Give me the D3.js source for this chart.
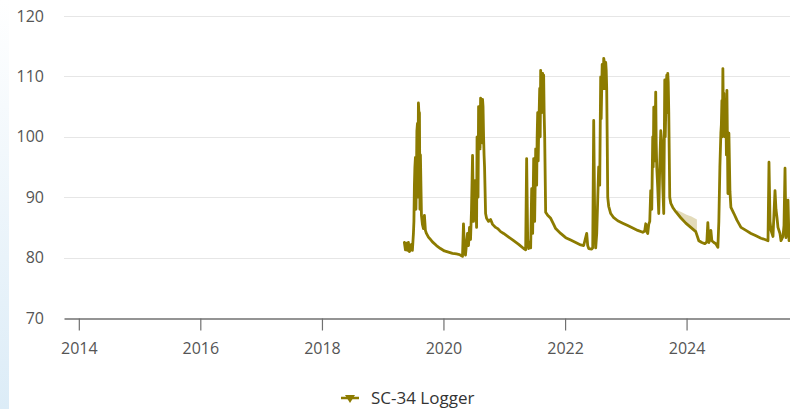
<!DOCTYPE html>
<html>
<head>
<meta charset="utf-8">
<script src="https://cdn.jsdelivr.net/npm/d3@7"></script>
<style>
  html, body { margin: 0; padding: 0; background: #fff; }
  svg { display: block; font-family: "Open Sans", "Noto Sans", sans-serif; }
</style>
</head>
<body>
<div id="chart"></div>
<script>
// Water level logger readings (decimal year, level)
const years = [
  2019.357, 2019.374, 2019.390, 2019.407, 2019.423, 2019.440, 2019.456, 2019.473, 2019.489, 2019.506,
  2019.522, 2019.539, 2019.555, 2019.572, 2019.588, 2019.605, 2019.621, 2019.638, 2019.654, 2019.671,
  2019.687, 2019.703, 2019.720, 2019.753, 2019.786, 2019.819, 2019.885, 2019.951, 2020.016, 2020.082,
  2020.148, 2020.214, 2020.264, 2020.297, 2020.313, 2020.329, 2020.346, 2020.362, 2020.379, 2020.395,
  2020.412, 2020.428, 2020.445, 2020.461, 2020.478, 2020.494, 2020.511, 2020.527, 2020.544, 2020.560,
  2020.577, 2020.593, 2020.610, 2020.626, 2020.642, 2020.659, 2020.675, 2020.692, 2020.708, 2020.741,
  2020.774, 2020.807, 2020.857, 2020.890, 2020.939, 2020.988, 2021.071, 2021.153, 2021.236, 2021.318,
  2021.351, 2021.367, 2021.384, 2021.400, 2021.417, 2021.433, 2021.450, 2021.466, 2021.483, 2021.499,
  2021.516, 2021.532, 2021.549, 2021.565, 2021.582, 2021.598, 2021.614, 2021.631, 2021.647, 2021.664,
  2021.680, 2021.713, 2021.763, 2021.812, 2021.845, 2021.927, 2022.010, 2022.092, 2022.175, 2022.257,
  2022.306, 2022.356, 2022.372, 2022.389, 2022.438, 2022.455, 2022.471, 2022.488, 2022.504, 2022.521,
  2022.537, 2022.553, 2022.570, 2022.586, 2022.603, 2022.619, 2022.636, 2022.652, 2022.669, 2022.685,
  2022.702, 2022.718, 2022.751, 2022.801, 2022.867, 2022.949, 2023.031, 2023.114, 2023.196, 2023.278,
  2023.311, 2023.328, 2023.344, 2023.361, 2023.377, 2023.394, 2023.410, 2023.427, 2023.443, 2023.460,
  2023.476, 2023.492, 2023.509, 2023.525, 2023.542, 2023.558, 2023.575, 2023.591, 2023.608, 2023.624,
  2023.641, 2023.657, 2023.674, 2023.690, 2023.707, 2023.723, 2023.740, 2023.773, 2023.822, 2023.904,
  2023.987, 2024.069, 2024.151, 2024.201, 2024.250, 2024.300, 2024.333, 2024.349, 2024.366, 2024.382,
  2024.399, 2024.415, 2024.448, 2024.481, 2024.514, 2024.530, 2024.547, 2024.563, 2024.580, 2024.596,
  2024.613, 2024.629, 2024.646, 2024.662, 2024.679, 2024.695, 2024.712, 2024.728, 2024.777, 2024.827,
  2024.893, 2024.975, 2025.058, 2025.140, 2025.222, 2025.288, 2025.338, 2025.354, 2025.371, 2025.387,
  2025.420, 2025.453, 2025.469, 2025.486, 2025.502, 2025.535, 2025.552, 2025.585, 2025.601, 2025.618,
  2025.634, 2025.651, 2025.667, 2025.684, 2025.700
];
const levels = [
  82.5, 81.3, 82.4, 81.2, 82.5, 81.0, 81.3, 82.2, 81.2, 84.0,
  92.0, 96.6, 93.0, 102.2, 105.6, 104.0, 97.0, 87.0, 85.5, 84.8,
  87.0, 84.5, 84.0, 83.4, 83.0, 82.6, 82.0, 81.5, 81.1, 80.9,
  80.7, 80.6, 80.5, 80.3, 80.2, 85.6, 81.0, 80.4, 82.3, 84.0,
  82.0, 85.0, 83.0, 88.0, 96.9, 86.0, 90.0, 92.8, 85.0, 99.0,
  105.0, 100.0, 106.4, 103.0, 106.2, 100.0, 95.0, 87.3, 86.5, 86.0,
  86.3, 85.5, 85.0, 84.8, 84.3, 84.0, 83.4, 82.8, 82.2, 81.5,
  81.3, 96.4, 83.0, 81.5, 82.5, 81.6, 91.4, 84.0, 96.4, 86.0,
  98.0, 92.0, 104.0, 101.0, 108.0, 111.0, 104.0, 110.5, 110.2, 100.0,
  87.5, 87.0, 86.5, 85.5, 84.8, 84.0, 83.3, 82.9, 82.5, 82.1,
  82.0, 84.0, 82.0, 81.5, 81.4, 81.6, 102.7, 86.0, 81.6, 84.0,
  89.5, 95.0, 92.0, 109.9, 108.0, 111.0, 113.0, 110.0, 112.3, 108.0,
  90.0, 88.5, 87.3, 86.6, 86.1, 85.7, 85.3, 84.9, 84.5, 84.2,
  84.4, 85.6, 84.3, 84.0, 85.5, 86.0, 91.1, 88.0, 100.0, 104.9,
  96.0, 107.4, 95.0, 91.6, 87.3, 95.0, 101.0, 99.0, 92.0, 87.3,
  109.4, 104.0, 110.2, 110.5, 104.0, 90.0, 89.0, 88.3, 87.6, 86.6,
  85.7, 85.0, 84.3, 82.8, 82.5, 82.3, 82.6, 85.8, 82.5, 83.0,
  84.5, 82.8, 82.5, 82.3, 81.7, 86.0, 95.0, 100.6, 106.0, 111.3,
  107.2, 100.0, 104.0, 107.7, 90.6, 100.6, 91.0, 88.3, 87.3, 86.2,
  85.0, 84.5, 84.0, 83.6, 83.2, 83.0, 82.8, 95.8, 86.0, 84.5,
  83.5, 91.1, 88.0, 86.6, 85.0, 84.0, 82.8, 83.5, 85.3, 94.8,
  83.3, 85.0, 89.5, 82.8, 84.0
];

// extra readings inside the rapid wet-season oscillations
const peakYears = [
  2019.514, 2019.530, 2019.547, 2019.563, 2019.580, 2019.596, 2019.613,
  2020.552, 2020.568, 2020.585, 2020.601, 2020.618, 2020.634, 2020.650, 2020.667,
  2021.524, 2021.540, 2021.557, 2021.573, 2021.590, 2021.606, 2021.622, 2021.639, 2021.655,
  2022.594, 2022.611, 2022.627, 2022.644, 2022.660, 2022.677, 2022.693,
  2023.451, 2023.468, 2023.500, 2023.649, 2023.665, 2023.682, 2023.698,
  2024.571, 2024.588, 2024.604, 2024.621, 2024.654, 2024.670
];
const peakLevels = [
  86.0, 95.0, 88.0, 101.0, 90.0, 104.0, 88.0,
  100.0, 90.0, 104.0, 98.0, 104.0, 99.0, 105.0, 97.0,
  94.0, 100.0, 96.0, 104.0, 100.0, 109.0, 106.0, 108.0, 104.0,
  103.0, 112.0, 108.0, 112.5, 108.0, 111.0, 100.0,
  95.0, 100.0, 99.0, 100.0, 108.0, 104.0, 109.0,
  102.0, 100.0, 104.0, 103.0, 97.0, 100.0
];

// small min/max band visible late 2023
const bandYears = [2023.840, 2023.920, 2024.000, 2024.080, 2024.170];
const bandHigh = [87.9, 87.5, 87.1, 86.8, 86.3];
const bandLow = [87.4, 86.4, 85.6, 84.9, 84.1];

const xTickYears = [2014, 2016, 2018, 2020, 2022, 2024];
const yTicks = [70, 80, 90, 100, 110, 120];
const seriesName = "SC-34 Logger";
const lineColor = "#8c7b00";

(function() {
    const W = 790, H = 409;
    const margin = { top: 16, right: 0, bottom: 91, left: 64 };

    function toDate(y) {
        const yr = Math.floor(y);
        const start = new Date(yr, 0, 1), end = new Date(yr + 1, 0, 1);
        return new Date(+start + (y - yr) * (end - start));
    }

    const data = years.map((y, i) => ({ date: toDate(y), value: levels[i] }))
        .concat(peakYears.map((y, i) => ({ date: toDate(y), value: peakLevels[i] })))
        .sort((a, b) => a.date - b.date);
    const band = bandYears.map((y, i) => ({ date: toDate(y), hi: bandHigh[i], lo: bandLow[i] }));

    const svg = d3.select("#chart").append("svg")
        .attr("width", W)
        .attr("height", H);

    // faint blue strip on left page edge
    const grad = svg.append("defs").append("linearGradient")
        .attr("id", "edge").attr("x1", 0).attr("y1", 0).attr("x2", 0).attr("y2", 1);
    grad.append("stop").attr("offset", "0%").attr("stop-color", "#ffffff");
    grad.append("stop").attr("offset", "100%").attr("stop-color", "#dcecf7");
    svg.append("rect").attr("x", 0).attr("y", 0).attr("width", 9).attr("height", H)
        .attr("fill", "url(#edge)");

    const x = d3.scaleTime()
        .domain([toDate(2013.756), toDate(2025.70)])
        .range([margin.left, W - margin.right]);

    const y = d3.scaleLinear()
        .domain([70, 120])
        .range([H - margin.bottom, margin.top]);

    // grid
    svg.append("g")
        .selectAll("line")
        .data(yTicks.filter(t => t > 70))
        .join("line")
        .attr("x1", margin.left)
        .attr("x2", W - margin.right)
        .attr("y1", d => Math.round(y(d)) + 0.5)
        .attr("y2", d => Math.round(y(d)) + 0.5)
        .attr("stroke", "#e6e6e6")
        .attr("stroke-width", 1);

    // y labels
    const yAxis = svg.append("g")
        .attr("transform", `translate(${margin.left - 20},0)`)
        .call(d3.axisLeft(y).tickValues(yTicks).tickSize(0).tickPadding(0));
    yAxis.select(".domain").remove();
    yAxis.selectAll("text")
        .attr("fill", "#555")
        .style("font-size", "16px")
        .style("font-family", "'Open Sans', sans-serif");

    // x axis
    const xAxis = svg.append("g")
        .attr("transform", `translate(0,${Math.round(y(70)) + 0.5})`)
        .call(d3.axisBottom(x)
            .tickValues(xTickYears.map(v => toDate(v)))
            .tickFormat(d3.timeFormat("%Y"))
            .tickSize(12)
            .tickSizeOuter(0)
            .tickPadding(12));
    xAxis.select(".domain").attr("stroke", "#707070").attr("stroke-width", 1.3);
    xAxis.selectAll(".tick line").attr("stroke", "#707070").attr("stroke-width", 1.2);
    xAxis.selectAll("text")
        .attr("fill", "#555")
        .style("font-size", "16px")
        .style("font-family", "'Open Sans', sans-serif");

    // band
    svg.append("path")
        .datum(band)
        .attr("fill", "#d9cfa3")
        .attr("fill-opacity", 0.75)
        .attr("d", d3.area()
            .x(d => x(d.date))
            .y0(d => y(d.lo))
            .y1(d => y(d.hi)));

    // line
    svg.append("path")
        .datum(data)
        .attr("fill", "none")
        .attr("stroke", lineColor)
        .attr("stroke-width", 2.8)
        .attr("stroke-linejoin", "round")
        .attr("stroke-linecap", "round")
        .attr("d", d3.line()
            .x(d => x(d.date))
            .y(d => y(d.value)));

    // legend
    const lg = svg.append("g").attr("transform", "translate(341,398)");
    lg.append("line")
        .attr("x1", 0).attr("x2", 18)
        .attr("y1", 0).attr("y2", 0)
        .attr("stroke", lineColor)
        .attr("stroke-width", 2.5);
    lg.append("path")
        .attr("transform", "translate(9,0)")
        .attr("d", "M-5,-3 L5,-3 L0,5 Z")
        .attr("fill", lineColor);
    lg.append("text")
        .attr("x", 30)
        .attr("y", 0)
        .attr("dy", "0.35em")
        .attr("fill", "#333")
        .style("font-size", "17px")
        .style("font-family", "'Open Sans', sans-serif")
        .text(seriesName);
})();
</script>
</body>
</html>
